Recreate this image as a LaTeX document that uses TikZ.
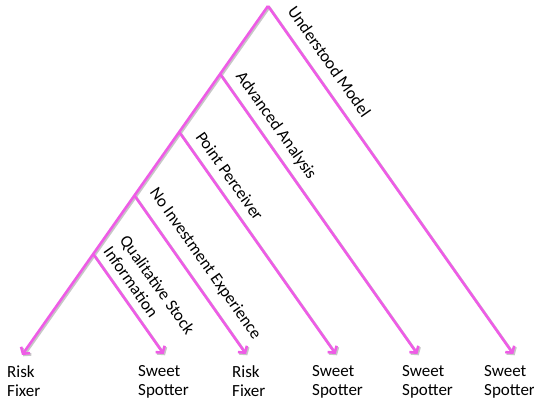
\documentclass[tikz,border=0pt]{standalone}
\usepackage{fontspec}
\setmainfont{Carlito}
\usetikzlibrary{arrows.meta}
\definecolor{treepink}{RGB}{238,92,230}

\begin{document}
\begin{tikzpicture}[x=1pt,y=-1pt,
    branch/.style={draw=treepink,line width=2.6pt,line join=miter,
      preaction={draw=black!22,line width=2.6pt,transform canvas={shift={(1.3pt,-1.3pt)}}}},
    leafarrow/.style={branch,-{Straight Barb[length=4.5pt,width=11pt]}},
    lbl/.style={sloped,anchor=base,inner sep=0pt,font=\fontsize{17}{20}\selectfont},
    leaf/.style={anchor=north west,align=left,inner sep=0pt,font=\fontsize{17}{19}\selectfont}]
    \useasboundingbox (0,0) rectangle (534,403);
    % branch points on the left spine
    \coordinate (A0_0) at (268,6);
    \coordinate (A1_0) at (220.1,74);
    \coordinate (A2_0) at (179.2,132);
    \coordinate (A3_0) at (134.4,195.5);
    \coordinate (A4_0) at (93.2,254);
    % arrow ends
    \coordinate (B0) at (22,355);
    \coordinate (B1) at (163.7,354);
    \coordinate (B2) at (246,354);
    \coordinate (B3) at (335.7,354);
    \coordinate (B4) at (417.4,354);
    \coordinate (B5) at (513.3,354);
    % leaves
    \node[leaf] (L0) at (7,365) {Risk\\Fixer};
    \node[leaf] (L1) at (138,365) {Sweet\\Spotter};
    \node[leaf] (L2) at (232,365) {Risk\\Fixer};
    \node[leaf] (L3) at (312,365) {Sweet\\Spotter};
    \node[leaf] (L4) at (402,365) {Sweet\\Spotter};
    \node[leaf] (L5) at (484,365) {Sweet\\Spotter};
    \draw[leafarrow] (A0_0) -- (A1_0) -- (A2_0) -- (A3_0) -- (A4_0) -- (B0);
    \draw[leafarrow] (A0_0) -- node[lbl,pos=0.19,yshift=12.4pt] {Understood Model} (B5);
    \draw[leafarrow] (A1_0) -- node[lbl,pos=0.217,yshift=11.2pt] {Advanced Analysis} (B4);
    \draw[leafarrow] (A2_0) -- node[lbl,pos=0.24,yshift=10.2pt] {Point Perceiver} (B3);
    \draw[leafarrow] (A3_0) -- node[lbl,pos=0.498,yshift=14pt] {No Investment Experience} (B2);
    \draw[leafarrow] (A4_0) -- node[lbl,pos=0.507,anchor=south,yshift=7.7pt,align=left]
      {Qualitative Stock\\Information} (B1);
\end{tikzpicture}
\end{document}
